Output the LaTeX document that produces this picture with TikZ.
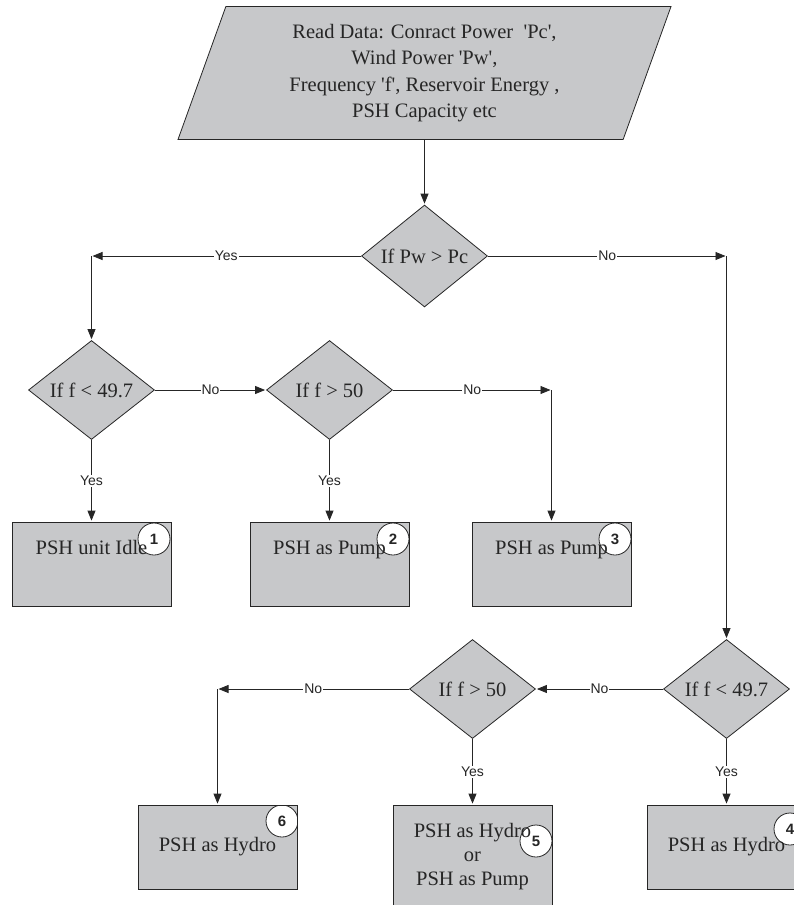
\documentclass[tikz,border=0pt]{standalone}
\usepackage{fontspec}
\setmainfont{Liberation Serif}
\setsansfont{Liberation Sans}
\usepackage{tikz}
\usetikzlibrary{arrows.meta,shapes,petri}
\usetikzlibrary{positioning}
\tikzset{num/.style={draw,circle,fill=white,inner sep=0pt,minimum size=32pt,text height={},text depth={},
  font=\sffamily\bfseries\fontsize{15}{15}\selectfont}}
\definecolor{boxgray}{RGB}{199,200,202}
\newcommand{\sq}{\textquotesingle}

\begin{document}
\begin{tikzpicture}[on grid,>={Triangle[length=10pt,width=8pt]},color=black!85,line width=0.8pt,font=\fontsize{20.5}{26.5}\selectfont]

      \tikzstyle{data}=[trapezium,trapezium left angle=64,trapezium right angle=116,trapezium stretches body,
      			  draw,fill=boxgray,inner sep=0pt,minimum width=493pt,minimum height=133pt,align=center]
      \tikzstyle{decision}=[diamond,draw,fill=boxgray,inner sep=0pt,minimum width=126pt,minimum height=99pt]
      \tikzstyle{box}=[rectangle,draw,fill=boxgray,inner sep=0pt,minimum width=159pt,minimum height=84pt]
      \tikzstyle{uptext}=[text height=14pt,text depth=34pt]
      \tikzstyle{lbl}=[fill=white,inner sep=1pt,font=\sffamily\fontsize{14}{14}\selectfont]
      % case number sits under the box text
      \tikzset{case/.style 2 args={path picture={
        \node [num] (n#1) at ([shift={#2}]path picture bounding box.north east) {#1};}}}

      \useasboundingbox (0,0) rectangle (794pt,-905pt);

      %input and first test
      \node [data] (read) at (424.5pt,-73pt)
        {Read Data: Conract Power~~\sq Pc\sq,\\Wind Power \sq Pw\sq,\\Frequency \sq f\sq, Reservoir Energy ,\\PSH Capacity etc};
      \node [decision] (pw) [below=183pt of read] {If Pw > Pc};

      %Pw > Pc branch
      \node [decision] (flo1) [below left=134pt and 333pt of pw] {If f < 49.7};
      \node [decision] (fhi1) [right=238pt of flo1] {If f > 50};
      \node [box,uptext,case={1}{(-17pt,-17pt)}] (idle) [below=174pt of flo1] {PSH unit Idle};
      \node [box,uptext,case={2}{(-16pt,-17pt)}] (pump1) [below=174pt of fhi1] {PSH as Pump};
      \node [box,uptext,case={3}{(-16pt,-17pt)}] (pump2) [right=222pt of pump1] {PSH as Pump};

      %Pw <= Pc branch
      \node [decision] (flo2) [below right=433pt and 302pt of pw] {If f < 49.7};
      \node [decision] (fhi2) [left=254pt of flo2] {If f > 50};
      \node [box,case={4}{(-16pt,-24pt)}] (hydro1) [below=158pt of flo2] {PSH as Hydro};
      \node [box,minimum height=104pt,align=center,font=\fontsize{20.5}{24}\selectfont,case={5}{(-16pt,-36pt)}] (both)
        [below=168pt of fhi2] {PSH as Hydro\\or\\PSH as Pump};
      \node [box,case={6}{(-15pt,-16pt)}] (hydro2) [below left=158pt and 255pt of fhi2] {PSH as Hydro};

      %corners
      \coordinate (cyes) at (flo1 |- pw);
      \coordinate (cno) at (flo2 |- pw);
      \coordinate (cpump) at (pump2 |- fhi1);
      \coordinate (chydro) at (hydro2 |- fhi2);

      \draw [post] (read) -- (pw);
      \draw [post] (pw) -- node[lbl] {Yes} (cyes);
      \draw [post] (cyes) -- (flo1);
      \draw [post] (pw) -- node[lbl] {No} (cno);
      \draw [post] (cno) -- (flo2);

      \draw [post] (flo1) -- node[lbl] {No} (fhi1);
      \draw [post] (flo1) -- node[lbl] {Yes} (idle);
      \draw [post] (fhi1) -- node[lbl] {Yes} (pump1);
      \draw [post] (fhi1) -- node[lbl] {No} (cpump);
      \draw [post] (cpump) -- (pump2);

      \draw [post] (flo2) -- node[lbl] {No} (fhi2);
      \draw [post] (flo2) -- node[lbl] {Yes} (hydro1);
      \draw [post] (fhi2) -- node[lbl] {Yes} (both);
      \draw [post] (fhi2) -- node[lbl] {No} (chydro);
      \draw [post] (chydro) -- (hydro2);

\end{tikzpicture}
\end{document}
